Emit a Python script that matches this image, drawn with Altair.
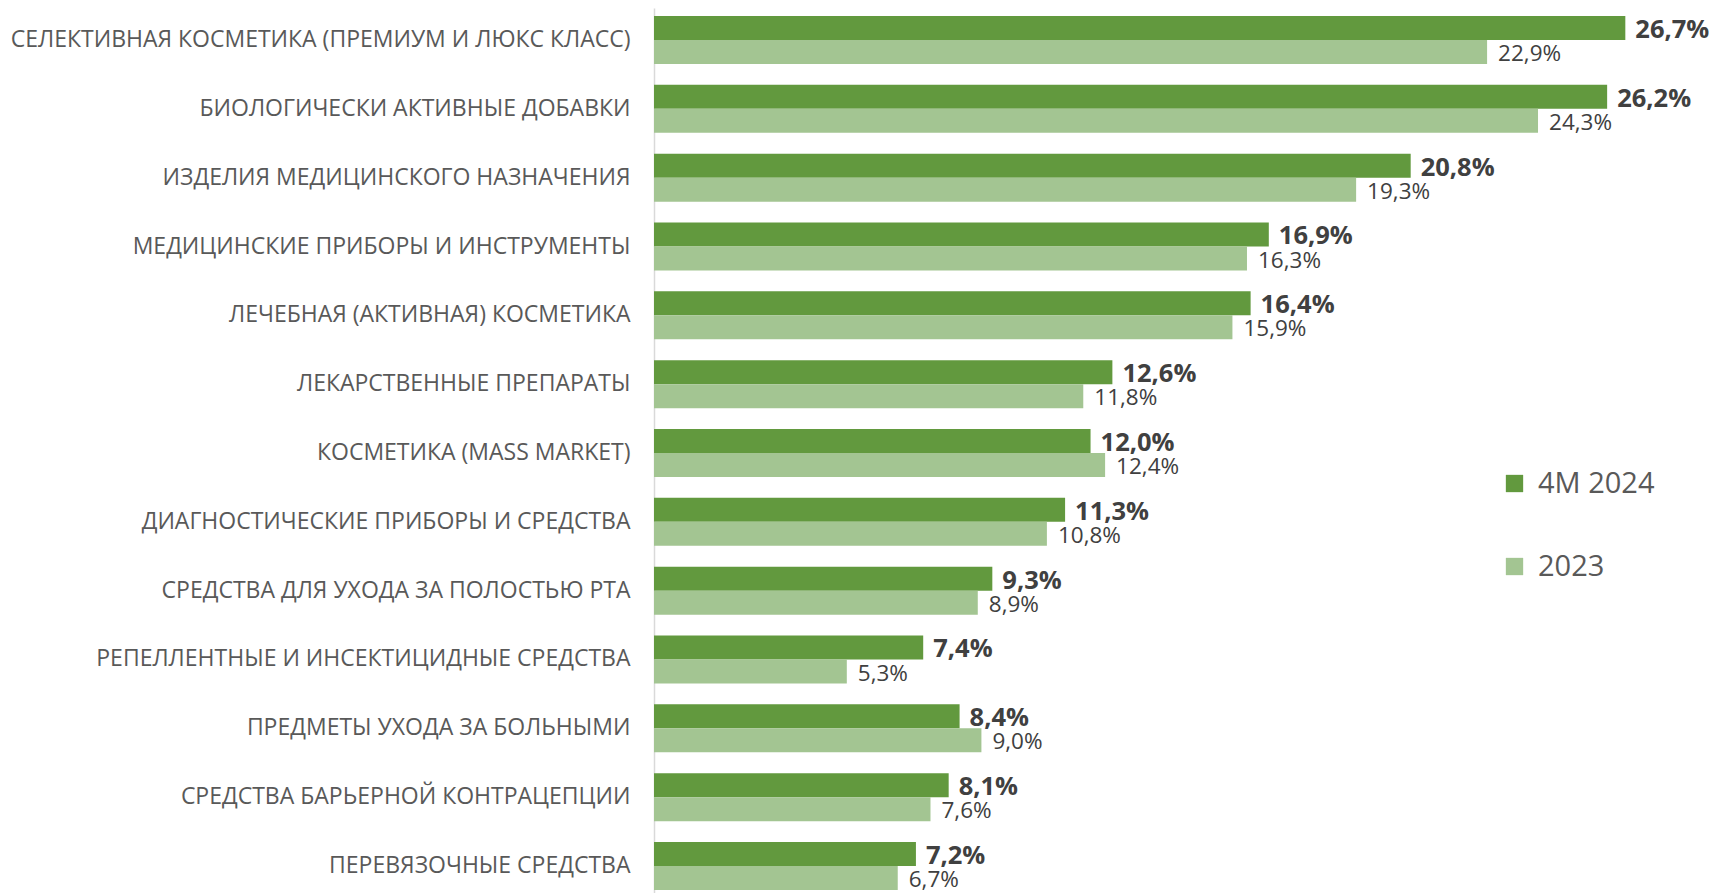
import altair as alt
import pandas as pd

categories = [
    "СЕЛЕКТИВНАЯ КОСМЕТИКА (ПРЕМИУМ И ЛЮКС КЛАСС)",
    "БИОЛОГИЧЕСКИ АКТИВНЫЕ ДОБАВКИ",
    "ИЗДЕЛИЯ МЕДИЦИНСКОГО НАЗНАЧЕНИЯ",
    "МЕДИЦИНСКИЕ ПРИБОРЫ И ИНСТРУМЕНТЫ",
    "ЛЕЧЕБНАЯ (АКТИВНАЯ) КОСМЕТИКА",
    "ЛЕКАРСТВЕННЫЕ ПРЕПАРАТЫ",
    "КОСМЕТИКА (MASS MARKET)",
    "ДИАГНОСТИЧЕСКИЕ ПРИБОРЫ И СРЕДСТВА",
    "СРЕДСТВА ДЛЯ УХОДА ЗА ПОЛОСТЬЮ РТА",
    "РЕПЕЛЛЕНТНЫЕ И ИНСЕКТИЦИДНЫЕ СРЕДСТВА",
    "ПРЕДМЕТЫ УХОДА ЗА БОЛЬНЫМИ",
    "СРЕДСТВА БАРЬЕРНОЙ КОНТРАЦЕПЦИИ",
    "ПЕРЕВЯЗОЧНЫЕ СРЕДСТВА",
]
values_2024 = [26.7, 26.2, 20.8, 16.9, 16.4, 12.6, 12.0, 11.3, 9.3, 7.4, 8.4, 8.1, 7.2]
values_2023 = [22.9, 24.3, 19.3, 16.3, 15.9, 11.8, 12.4, 10.8, 8.9, 5.3, 9.0, 7.6, 6.7]
series = ["4M 2024", "2023"]
colors = ["#62993E", "#A3C592"]

rows = []
for c, v1, v2 in zip(categories, values_2024, values_2023):
    rows.append({"category": c, "series": series[0], "value": v1})
    rows.append({"category": c, "series": series[1], "value": v2})
df = pd.DataFrame(rows)

FONT = "Open Sans"

base = alt.Chart(df).transform_calculate(
    label="replace(format(datum.value, '.1f'), '.', ',') + '%'"
)

y_enc = alt.Y(
    "category:N",
    sort=categories,
    scale=alt.Scale(paddingInner=0.302, paddingOuter=0.116),
    axis=alt.Axis(
        title=None,
        ticks=False,
        domainColor="#D9D9D9",
        domainWidth=1.5,
        labelFont=FONT,
        labelFontSize=23,
        labelColor="#595959",
        labelPadding=24,
        labelLimit=0,
    ),
)
yoff = alt.YOffset("series:N", sort=series, scale=alt.Scale(domain=series, paddingInner=0, paddingOuter=0))
x_enc = alt.X("value:Q", scale=alt.Scale(domain=[0, 29], nice=False), axis=None)

bars = base.mark_bar().encode(
    y=y_enc,
    yOffset=yoff,
    x=x_enc,
    color=alt.Color(
        "series:N",
        scale=alt.Scale(domain=series, range=colors),
        legend=alt.Legend(
            title=None,
            orient="none",
            legendX=846,
            legendY=461,
            symbolType="square",
            symbolSize=300,
            symbolStrokeWidth=0,
            labelFont=FONT,
            labelFontSize=29,
            labelColor="#595959",
            labelOffset=9,
            rowPadding=53,
            padding=0,
        ),
    ),
)

text_dark = base.transform_filter(alt.datum.series == series[0]).mark_text(
    align="left", baseline="middle", dx=10, dy=2, font=FONT, fontSize=25.5,
    fontWeight="bold", color="#404040",
).encode(y=y_enc, yOffset=yoff, x=x_enc, text="label:N")

text_light = base.transform_filter(alt.datum.series == series[1]).mark_text(
    align="left", baseline="middle", dx=11, dy=2, font=FONT, fontSize=22.5,
    color="#404040",
).encode(y=y_enc, yOffset=yoff, x=x_enc, text="label:N")

chart = alt.layer(bars, text_dark, text_light).properties(
    width=1055,
    height=890,
    autosize=alt.AutoSizeParams(type="none"),
    padding={"left": 646, "top": 0, "right": 0, "bottom": 0},
).configure_view(stroke=None)

chart.save("out.html", embed_options={"renderer": "svg", "actions": False})
